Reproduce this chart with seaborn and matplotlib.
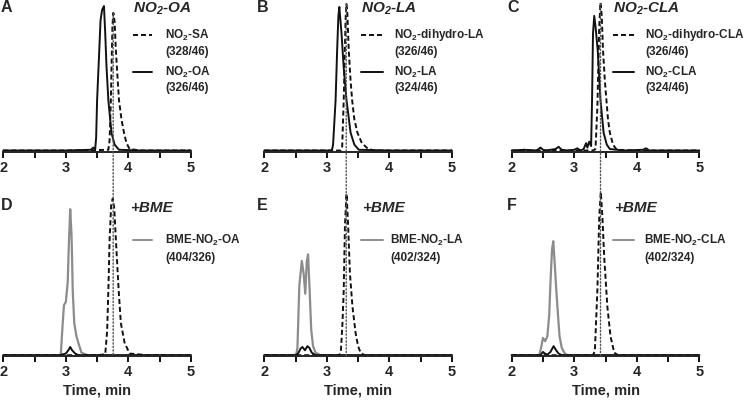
# Nitro fatty acid chromatograms, with and without BME
import numpy as np
import pandas as pd
import matplotlib.pyplot as plt
import seaborn as sns
from matplotlib.patches import ConnectionPatch

sns.set_style("ticks")
plt.rcParams['font.family'] = ['Liberation Sans', 'DejaVu Sans']
plt.rcParams['mathtext.fontset'] = 'custom'
plt.rcParams['mathtext.rm'] = 'Liberation Sans'
plt.rcParams['mathtext.bf'] = 'Liberation Sans:bold'
plt.rcParams['mathtext.it'] = 'Liberation Sans:italic'
plt.rcParams['mathtext.bfit'] = 'Liberation Sans:italic:bold'
plt.rcParams['mathtext.default'] = 'bf'


# -------------------------------------------------
# Data (time in min, relative intensity in %)
# -------------------------------------------------

# A: NO2-OA
a_sa_t = [2.0, 2.5, 3.0, 3.4, 3.68, 3.70, 3.72, 3.745, 3.76, 3.78, 3.80, 3.83, 3.85, 3.89, 3.93, 3.97, 4.02, 4.2, 5.0]
a_sa_y = [1, 1, 1, 1.2, 1.5, 8, 35, 85, 94, 88, 69, 48, 35, 22, 13, 6, 2, 1, 1]
a_oa_t = [2.0, 2.5, 3.0, 3.40, 3.44, 3.47, 3.485, 3.50, 3.535, 3.555, 3.58, 3.61, 3.63, 3.65, 3.68, 3.73, 3.78, 3.85, 4.2, 5.0]
a_oa_y = [1, 1, 1, 1.5, 3, 2, 10, 35, 69, 89, 96, 98.6, 80, 58, 35, 13, 5, 1.5, 1, 1]

# B: NO2-LA
b_dh_t = [2.0, 2.5, 3.0, 3.22, 3.245, 3.27, 3.30, 3.315, 3.33, 3.35, 3.38, 3.405, 3.44, 3.49, 3.56, 3.65, 3.75, 4.2, 5.0]
b_dh_y = [1, 1, 1, 1, 3, 35, 90, 100, 92, 69, 48, 35, 22, 13, 6, 2.5, 1, 1, 1]
b_la_t = [2.0, 2.5, 3.0, 3.08, 3.10, 3.14, 3.165, 3.185, 3.20, 3.235, 3.27, 3.315, 3.38, 3.44, 3.51, 4.0, 5.0]
b_la_y = [1, 1, 1, 1, 5, 35, 69, 92, 98, 80, 57, 35, 13, 5, 1.5, 1, 1]

# C: NO2-CLA
c_dh_t = [2.0, 2.5, 3.0, 3.3, 3.34, 3.37, 3.40, 3.42, 3.44, 3.46, 3.49, 3.515, 3.54, 3.57, 3.62, 3.68, 4.0, 5.0]
c_dh_y = [1, 1, 1, 1, 2, 30, 85, 101, 92, 69, 48, 35, 22, 13, 5, 1.5, 1, 1]
c_cla_t = [2.0, 2.2, 2.4, 2.46, 2.5, 2.55, 2.7, 2.75, 2.8, 2.9, 3.0, 3.05, 3.1, 3.15, 3.19, 3.21, 3.24,
           3.27, 3.285, 3.30, 3.32, 3.34, 3.375, 3.42, 3.47, 3.52, 3.57, 3.8, 4.1, 4.15, 4.2, 5.0]
c_cla_y = [1, 1.5, 1, 3, 1.5, 1, 2, 3.5, 1.5, 1, 1.5, 2.5, 1, 2, 6, 3, 7,
           4, 35, 80, 92, 85, 69, 35, 13, 5, 2, 1, 1.5, 2.5, 1, 1]

# D: NO2-OA + BME
d_bme_t = [2.0, 2.5, 2.88, 2.92, 2.95, 2.97, 3.0, 3.03, 3.05, 3.07, 3.09, 3.10, 3.11, 3.135, 3.17, 3.20, 3.25, 3.35, 5.0]
d_bme_y = [0.5, 0.5, 0.5, 1, 20, 31, 33, 45, 70, 89.5, 75, 60, 40, 20, 12, 8, 2, 0.5, 0.5]
d_sol_t = [2.0, 2.9, 2.95, 3.0, 3.04, 3.07, 3.10, 3.15, 3.2, 5.0]
d_sol_y = [0.5, 0.5, 1, 1.5, 3.5, 5.5, 3.5, 1.5, 0.5, 0.5]
d_dsh_t = [2.0, 2.5, 3.0, 3.5, 3.63, 3.66, 3.68, 3.70, 3.725, 3.75, 3.775, 3.80, 3.845, 3.88, 3.94, 4.02, 4.3, 5.0]
d_dsh_y = [0.5, 0.5, 0.5, 0.5, 1, 15, 40, 71, 92, 96, 90, 71, 40, 20, 8, 1.5, 0.5, 0.5]

# E: NO2-LA + BME
e_bme_t = [2.0, 2.45, 2.51, 2.53, 2.56, 2.60, 2.63, 2.655, 2.68, 2.70, 2.725, 2.75, 2.78, 2.82, 2.9, 5.0]
e_bme_y = [0.5, 0.5, 1, 5, 43, 58, 50, 38, 58, 62, 40, 16, 6, 2, 0.5, 0.5]
e_sol_t = [2.0, 2.5, 2.54, 2.58, 2.61, 2.65, 2.69, 2.72, 2.76, 2.82, 5.0]
e_sol_y = [0.5, 0.5, 1.5, 4.5, 5.5, 3.5, 6, 5, 2, 0.5, 0.5]
e_dsh_t = [2.0, 2.5, 3.0, 3.2, 3.225, 3.25, 3.27, 3.29, 3.315, 3.34, 3.37, 3.41, 3.46, 3.50, 3.54, 3.6, 5.0]
e_dsh_y = [0.5, 0.5, 0.5, 0.5, 3, 20, 40, 80, 99, 80, 50, 30, 14, 6, 2, 0.5, 0.5]

# F: NO2-CLA + BME
f_bme_t = [2.0, 2.44, 2.47, 2.50, 2.535, 2.57, 2.60, 2.62, 2.645, 2.665, 2.69, 2.71, 2.74, 2.765, 2.80, 2.85, 2.9, 5.0]
f_bme_y = [0.5, 0.5, 5, 11, 9, 12, 25, 45, 65, 70, 55, 42, 25, 12, 5, 1.5, 0.5, 0.5]
f_sol_t = [2.0, 2.46, 2.50, 2.53, 2.57, 2.62, 2.67, 2.71, 2.75, 2.8, 5.0]
f_sol_y = [0.5, 0.5, 2.5, 1.5, 0.8, 2.5, 6, 3.5, 1.5, 0.5, 0.5]
f_dsh_t = [2.0, 2.5, 3.0, 3.3, 3.33, 3.37, 3.40, 3.425, 3.45, 3.48, 3.53, 3.58, 3.64, 3.7, 5.0]
f_dsh_y = [0.5, 0.5, 0.5, 0.5, 3, 40, 85, 100, 85, 60, 30, 12, 2, 0.5, 0.5]

# retention time markers (dotted line A->D, B->E, C->F) and their top value
marker_t = [3.757, 3.31, 3.42]
marker_top = [94, 100, 100]

titles = ["$\\mathbfit{NO_2}$-OA", "$\\mathbfit{NO_2}$-LA", "$\\mathbfit{NO_2}$-CLA"]
dash_labels = [["NO$_2$-SA", "(328/46)"], ["NO$_2$-dihydro-LA", "(326/46)"], ["NO$_2$-dihydro-CLA", "(326/46)"]]
solid_labels = [["NO$_2$-OA", "(326/46)"], ["NO$_2$-LA", "(324/46)"], ["NO$_2$-CLA", "(324/46)"]]
bme_labels = [["BME-NO$_2$-OA", "(404/326)"], ["BME-NO$_2$-LA", "(402/324)"], ["BME-NO$_2$-CLA", "(402/324)"]]
top_letters = ["A", "B", "C"]
bot_letters = ["D", "E", "F"]
x_ticks = [2, 3, 4, 5]


# -------------------------------------------------
# Figure layout (pixel positions of the panels)
# -------------------------------------------------

W, H = 745, 401
fig = plt.figure(figsize=(W / 100, H / 100), dpi=100)

col_left = [3.3, 264.3, 511.7]
ax_w = 187.6

top_axes = [fig.add_axes([l / W, 249 / H, ax_w / W, 148 / H]) for l in col_left]
bot_axes = [fig.add_axes([l / W, 45 / H, ax_w / W, 164 / H]) for l in col_left]

BLACK = "#111111"
GREY = "#8c8c8c"
DASH = (0, (2.6, 1.5))


def draw_trace(ax, t, y, color, ls='-', lw=1.4):
    sns.lineplot(x=t, y=y, ax=ax, color=color, lw=lw, linestyle=ls, clip_on=False)


def setup_axis(ax):
    ax.set_xlim(2, 5)
    ax.set_ylim(0, 100)
    ax.set_xticks(x_ticks)
    ax.set_xticks([2.5, 3.5, 4.5], minor=True)
    ax.set_yticks([])
    for s in ['left', 'right', 'top']:
        ax.spines[s].set_visible(False)
    ax.spines['bottom'].set_linewidth(1.4)
    ax.tick_params(axis='x', which='both', direction='out', length=4, width=1.4, bottom=True, color=BLACK)
    ax.tick_params(axis='x', which='major', labelsize=10.5, pad=2.5)
    for lab in ax.get_xticklabels():
        lab.set_fontweight('bold')
    ax.set_facecolor('none')


def ftext(x, y, s, **kw):
    fig.text(x / W, 1 - y / H, s, va='center', ha='left', **kw)


def fline(x0, x1, y, color, ls='-'):
    fig.add_artist(plt.Line2D([x0 / W, x1 / W], [1 - y / H, 1 - y / H], color=color, lw=1.4, linestyle=ls))


# -------------------------------------------------
# Top row: A, B, C
# -------------------------------------------------

top_data = [(a_sa_t, a_sa_y, a_oa_t, a_oa_y),
            (b_dh_t, b_dh_y, b_la_t, b_la_y),
            (c_dh_t, c_dh_y, c_cla_t, c_cla_y)]

for ax, (dt, dy, st, sy) in zip(top_axes, top_data):
    draw_trace(ax, st, sy, BLACK)
    draw_trace(ax, dt, dy, BLACK, DASH)
    setup_axis(ax)


# -------------------------------------------------
# Bottom row: D, E, F (+BME)
# -------------------------------------------------

bot_data = [(d_bme_t, d_bme_y, d_sol_t, d_sol_y, d_dsh_t, d_dsh_y),
            (e_bme_t, e_bme_y, e_sol_t, e_sol_y, e_dsh_t, e_dsh_y),
            (f_bme_t, f_bme_y, f_sol_t, f_sol_y, f_dsh_t, f_dsh_y)]

for ax, (gt, gy, st, sy, dt, dy) in zip(bot_axes, bot_data):
    draw_trace(ax, gt, gy, GREY, lw=1.6)
    draw_trace(ax, st, sy, BLACK)
    draw_trace(ax, dt, dy, BLACK, DASH)
    setup_axis(ax)
    ax.set_xlabel("Time, min", fontsize=10.5, fontweight='bold', labelpad=3)


# dotted retention time markers across rows
for axt, axb, t, top in zip(top_axes, bot_axes, marker_t, marker_top):
    con = ConnectionPatch(xyA=(t, top), coordsA=axt.transData, xyB=(t, 0), coordsB=axb.transData,
                          linestyle=(0, (1, 1.5)), color="#555555", lw=1.0)
    fig.add_artist(con)


# -------------------------------------------------
# Labels and legends
# -------------------------------------------------

letter_x = [1, 256.7, 507.3]
title_x = [133, 360.7, 613.3]
line_end = [152, 383, 634]
text_x = [165, 394, 645]
bme_x = [130, 361.7, 614]
bme_text_x = [165, 390, 644]
LEG_FS = 8.5

for i in range(3):
    ftext(letter_x[i], 8, top_letters[i], fontsize=11.5, fontweight='bold')
    ftext(letter_x[i], 205, bot_letters[i], fontsize=11.5, fontweight='bold')

    ftext(title_x[i], 8.5, titles[i], fontsize=11, fontweight='bold', fontstyle='italic')
    fline(title_x[i], line_end[i], 35, BLACK, DASH)
    ftext(text_x[i], 35, dash_labels[i][0], fontsize=LEG_FS, fontweight='bold')
    ftext(text_x[i], 52, dash_labels[i][1], fontsize=LEG_FS, fontweight='bold')
    fline(title_x[i], line_end[i], 72, BLACK)
    ftext(text_x[i], 72, solid_labels[i][0], fontsize=LEG_FS, fontweight='bold')
    ftext(text_x[i], 88, solid_labels[i][1], fontsize=LEG_FS, fontweight='bold')

    ftext(bme_x[i], 208, "+BME", fontsize=11, fontweight='bold', fontstyle='italic')
    fline(title_x[i], line_end[i], 240, GREY)
    ftext(bme_text_x[i], 240, bme_labels[i][0], fontsize=LEG_FS, fontweight='bold')
    ftext(bme_text_x[i], 258, bme_labels[i][1], fontsize=LEG_FS, fontweight='bold')

plt.savefig("out.png", dpi=100)
